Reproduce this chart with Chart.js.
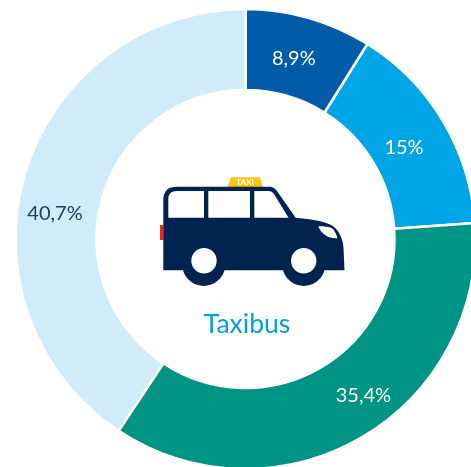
<!DOCTYPE html>
<html><head><meta charset="utf-8">
<script src="https://cdn.jsdelivr.net/npm/chart.js@4"></script>
<style>html,body{margin:0;padding:0;background:#fff;overflow:hidden;width:471px;height:467px}
#w{position:absolute;left:0;top:0;width:471px;height:467px;overflow:hidden}
canvas{display:block}</style></head>
<body><div id="w"><canvas id="c" width="491" height="478" style="width:491px;height:478px"></canvas></div>
<script>
const categories = ['A','B','C','D'];
const seriesValues = [8.9, 15, 35.4, 40.7];
const valueLabels = ['8,9%','15%','35,4%','40,7%'];
const sliceColors = ['#005CA9','#00A5E6','#009485','#D0ECFA'];
const centerLabel = 'Taxibus';
const labelNudge = [[-4,2],[-4,6],[22.5,-7],[-9,29]];
const FONT = 'Lato, "Open Sans", sans-serif';

const overlay = {
  id:'overlay',
  afterDraw(chart){
    const ctx = chart.ctx;
    const meta = chart.getDatasetMeta(0);
    ctx.save();
    ctx.textAlign='center'; ctx.textBaseline='middle';
    ctx.font = '20px '+FONT;
    meta.data.forEach((arc,i)=>{
      const p = arc.tooltipPosition();
      ctx.fillStyle = i===3 ? '#1d3f63' : '#ffffff';
      ctx.fillText(valueLabels[i], p.x+labelNudge[i][0], p.y+labelNudge[i][1]);
    });
    // car
    ctx.fillStyle='#E4291E'; ctx.fillRect(160,225,3.4,15);
    ctx.fillStyle='#FFC20E'; ctx.fill(new Path2D('M227.3 187L231 177.3H260L262.7 187Z'));
    ctx.fillStyle='#00244F';
    ctx.fill(new Path2D('M163.3 200Q163.3 186.7 177 186.7H269Q274 186.7 277 191L295.7 217.7C308 219 320 220 330 224.5C338 228 343 238 343.5 248L344.5 270.3H324.5A21.6 21.6 0 0 1 283 270.3H224.5A21.6 21.6 0 0 1 183 270.3H163.3Z'));
    ctx.fillStyle='#ffffff';
    ctx.fill(new Path2D('M168.3 217.7V199Q168.3 191 177 191H204V217.7Z'));
    ctx.fill(new Path2D('M208.3 191H250V217.7H208.3Z'));
    ctx.fill(new Path2D('M254.3 191H269Q272 191 274 194L288.5 217.7H254.3Z'));
    ctx.fill(new Path2D('M318.3 226.3C324 226 331 227 333 229C335 232 337 235 337.3 238.3C329 239 321 234 318.3 226.3Z'));
    ctx.beginPath(); ctx.arc(204,260.7,12.7,0,Math.PI*2); ctx.fill();
    ctx.beginPath(); ctx.arc(303.7,260.7,12.7,0,Math.PI*2); ctx.fill();
    ctx.font='bold 8px '+FONT; ctx.fillText('TAXI',245,182.8);
    ctx.fillStyle='#009FE0'; ctx.font='26.5px '+FONT;
    ctx.fillText(centerLabel,247,324);
    ctx.restore();
  }
};

new Chart(document.getElementById('c'),{
  type:'doughnut',
  data:{labels:categories,datasets:[{data:seriesValues,backgroundColor:sliceColors,borderColor:'#ffffff',borderWidth:2.5,hoverBorderWidth:2.5}]},
  options:{responsive:false,animation:false,devicePixelRatio:1,radius:230,cutout:154,
    layout:{padding:0},
    plugins:{legend:{display:false},tooltip:{enabled:false}}},
  plugins:[overlay]
});
</script></body></html>
